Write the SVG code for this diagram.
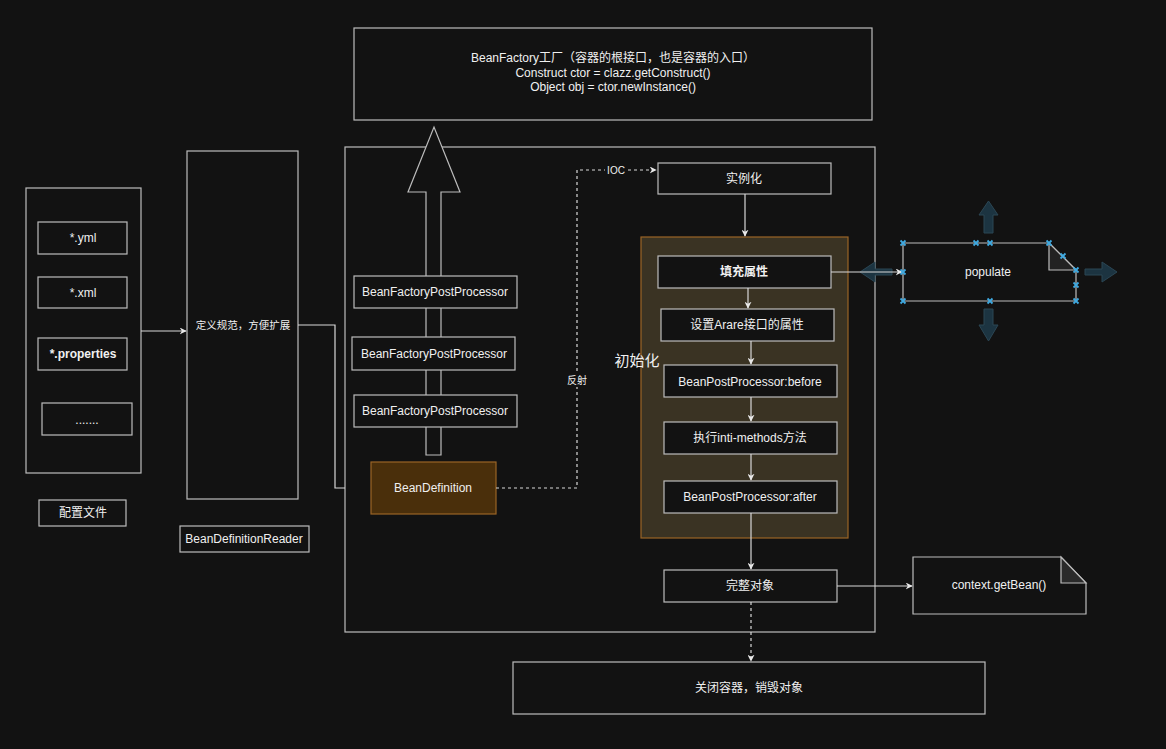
<svg xmlns="http://www.w3.org/2000/svg" width="1166" height="749" viewBox="0 0 1166 749">
  <style>
    text { font-family: "Liberation Sans", Arial, "Noto Sans CJK SC", sans-serif; font-size: 12px; fill: #f0f0f0; text-anchor: middle; dominant-baseline: central; }
    .box { fill: #121212; stroke: #bcbcbc; stroke-width: 1.2; }
    .frame { fill: none; stroke: #bcbcbc; stroke-width: 1.2; }
    .line { fill: none; stroke: #d8d8d8; stroke-width: 1.2; }
    .dash { fill: none; stroke: #d8d8d8; stroke-width: 1.2; stroke-dasharray: 3 3; }
    .bold { font-weight: bold; }
    .hint { fill: #1c3441; stroke: #2b4654; stroke-width: 1; }
    .mark { stroke: #3fa9e0; stroke-width: 1.8; }
  </style>
  <defs>
    <marker id="arr" viewBox="0 0 10 10" refX="9" refY="5" markerWidth="7" markerHeight="7" orient="auto" markerUnits="userSpaceOnUse">
      <path d="M0,0 L10,5 L0,10 L3,5 Z" fill="#e8e8e8"/>
    </marker>
  </defs>
  <rect width="1166" height="749" fill="#121212"/>

  <!-- outer frames -->
  <g id="container">
    <rect class="frame" x="345" y="147" width="530" height="485"/>
  </g>
  <g id="config-files">
    <rect class="frame" x="26" y="188" width="115" height="285"/>
  </g>

  <!-- top factory box -->
  <g id="bean-factory">
    <rect class="box" x="354" y="28" width="518" height="92"/>
    <text x="613" y="58">BeanFactory工厂（容器的根接口，也是容器的入口）</text>
    <text x="613" y="73">Construct ctor = clazz.getConstruct()</text>
    <text x="613" y="87">Object obj = ctor.newInstance()</text>
  </g>

  <!-- config file entries -->
  <g id="yml"><rect class="box" x="38" y="222" width="89" height="32"/><text x="83" y="238">*.yml</text></g>
  <g id="xml"><rect class="box" x="38" y="277" width="89" height="31"/><text x="83" y="293">*.xml</text></g>
  <g id="properties"><rect class="box" x="38" y="338" width="89" height="32"/><text class="bold" x="83" y="354">*.properties</text></g>
  <g id="more"><rect class="box" x="42" y="403" width="90" height="32"/><text x="87" y="420">.......</text></g>
  <g id="config-label"><rect class="box" x="39" y="500" width="87" height="26"/><text x="83" y="513">配置文件</text></g>

  <!-- reader -->
  <g id="spec"><rect class="box" x="187" y="151" width="111" height="348"/><text x="243" y="325" style="font-size:10.5px">定义规范，方便扩展</text></g>
  <g id="reader-label"><rect class="box" x="180" y="526" width="129" height="26"/><text x="244" y="539">BeanDefinitionReader</text></g>

  <!-- big hollow arrow -->
  <g id="factory-arrow">
    <path d="M426,455 L426,192 L408,192 L434,127 L460,192 L441,192 L441,455 Z" fill="#121212" stroke="#bcbcbc" stroke-width="1.2"/>
  </g>

  <g id="bfpp1"><rect class="box" x="354" y="276" width="163" height="32"/><text x="435" y="292">BeanFactoryPostProcessor</text></g>
  <g id="bfpp2"><rect class="box" x="352" y="337" width="163" height="33"/><text x="434" y="354">BeanFactoryPostProcessor</text></g>
  <g id="bfpp3"><rect class="box" x="354" y="395" width="163" height="32"/><text x="435" y="411">BeanFactoryPostProcessor</text></g>
  <g id="bean-definition"><rect x="371" y="462" width="125" height="52" fill="#4a2f0b" stroke="#9a6426" stroke-width="1.2"/><text x="433" y="488">BeanDefinition</text></g>

  <!-- initialization group -->
  <g id="init-group">
    <rect x="641" y="237" width="207" height="301" fill="#3a3323" stroke="#9a6426" stroke-width="1.2"/>
    <text x="637" y="360" style="font-size:15px">初始化</text>
  </g>

  <g id="instantiate"><rect class="box" x="658" y="163" width="173" height="31"/><text x="744" y="179">实例化</text></g>
  <g id="populate-props"><rect class="box" x="658" y="256" width="173" height="32"/><text class="bold" x="744" y="272">填充属性</text></g>
  <g id="aware"><rect class="box" x="661" y="309" width="173" height="32"/><text x="747" y="325">设置Arare接口的属性</text></g>
  <g id="bpp-before"><rect class="box" x="664" y="365" width="173" height="32"/><text x="750" y="382">BeanPostProcessor:before</text></g>
  <g id="init-methods"><rect class="box" x="664" y="422" width="173" height="32"/><text x="750" y="438">执行inti-methods方法</text></g>
  <g id="bpp-after"><rect class="box" x="664" y="481" width="173" height="32"/><text x="750" y="497">BeanPostProcessor:after</text></g>
  <g id="complete"><rect class="box" x="664" y="570" width="173" height="32"/><text x="750" y="586">完整对象</text></g>
  <g id="close"><rect class="box" x="513" y="662" width="472" height="52"/><text x="749" y="688">关闭容器，销毁对象</text></g>

  <g id="get-bean">
    <path d="M913,557 L1061,557 L1086,583 L1086,614 L913,614 Z" fill="#121212" stroke="#bcbcbc" stroke-width="1.2"/>
    <path d="M1061,557 L1061,583 L1086,583 Z" fill="#2a2a2a" stroke="#bcbcbc" stroke-width="1.2"/>
    <text x="999" y="585">context.getBean()</text>
  </g>

  <!-- selection handles around populate -->
  <g id="populate-handles">
    <path class="hint" d="M984,233 L984,215 L979,215 L988.5,201 L998,215 L993,215 L993,233 Z"/>
    <path class="hint" d="M984,309 L984,325 L979,325 L988.5,341 L998,325 L993,325 L993,309 Z"/>
    <path class="hint" d="M892,269 L875,269 L875,262 L860,272 L875,282 L875,275 L892,275 Z"/>
    <path class="hint" d="M1085,269 L1102,269 L1102,262 L1117,272 L1102,282 L1102,275 L1085,275 Z"/>
  </g>
  <g id="populate">
    <path d="M903,243 L1049,243 L1076,270 L1076,301 L903,301 Z" fill="#121212" stroke="#bcbcbc" stroke-width="1.2"/>
    <path d="M1049,243 L1049,270 L1076,270 Z" fill="#222" stroke="#bcbcbc" stroke-width="1.2"/>
    <text x="988" y="272">populate</text>
  </g>

  <!-- connectors -->
  <g id="connectors">
    <path class="line" d="M141,331 L186,331" marker-end="url(#arr)"/>
    <path class="line" d="M298,325 L335,325 L335,488 L345,488"/>
    <path class="dash" d="M496,488 L577,488 L577,170 L656,170" marker-end="url(#arr)"/>
    <path class="line" d="M745,194 L745,236" marker-end="url(#arr)"/>
    <path class="line" d="M748,288 L748,308" marker-end="url(#arr)"/>
    <path class="line" d="M751,341 L751,364" marker-end="url(#arr)"/>
    <path class="line" d="M751,397 L751,421" marker-end="url(#arr)"/>
    <path class="line" d="M751,454 L751,480" marker-end="url(#arr)"/>
    <path class="line" d="M751,513 L751,569" marker-end="url(#arr)"/>
    <path class="dash" d="M751,602 L751,661" marker-end="url(#arr)"/>
    <path class="line" d="M837,586 L912,586" marker-end="url(#arr)"/>
    <path class="line" d="M831,272 L902,272" marker-end="url(#arr)"/>
    <rect x="605" y="164" width="22" height="12" fill="#121212"/>
    <text x="616" y="170" style="font-size:10px">IOC</text>
    <rect x="566" y="374" width="22" height="13" fill="#121212"/>
    <text x="577" y="380" style="font-size:10px">反射</text>
  </g>

  <!-- anchor markers on populate -->
  <g id="populate-markers" class="mark">
    <path d="M900.5,240.5 l5,5 m0,-5 l-5,5"/>
    <path d="M973.5,240.5 l5,5 m0,-5 l-5,5"/>
    <path d="M987.5,240.5 l5,5 m0,-5 l-5,5"/>
    <path d="M1046.5,240.5 l5,5 m0,-5 l-5,5"/>
    <path d="M1060.5,253.5 l5,5 m0,-5 l-5,5"/>
    <path d="M1073.5,267.5 l5,5 m0,-5 l-5,5"/>
    <path d="M1073.5,282.5 l5,5 m0,-5 l-5,5"/>
    <path d="M1073.5,298.5 l5,5 m0,-5 l-5,5"/>
    <path d="M987.5,298.5 l5,5 m0,-5 l-5,5"/>
    <path d="M900.5,298.5 l5,5 m0,-5 l-5,5"/>
    <path d="M900.5,269.5 l5,5 m0,-5 l-5,5"/>
  </g>
</svg>
